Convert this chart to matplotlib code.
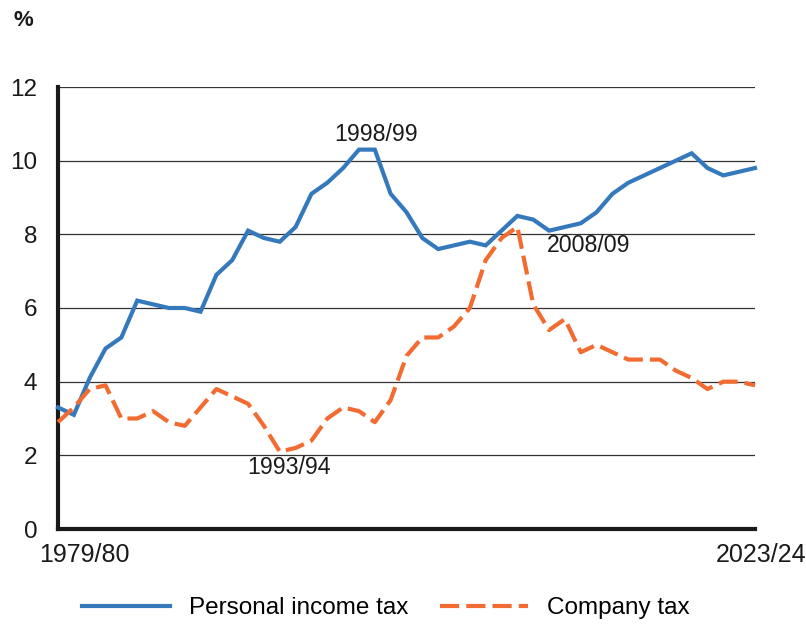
from matplotlib import pyplot as plt
import numpy as np

plt.rcParams['font.family'] = ['Liberation Sans', 'DejaVu Sans']

# financial years 1979/80 .. 2023/24
years = ['{}/{:02d}'.format(y, (y + 1) % 100) for y in range(1979, 2024)]

personal_income_tax = [3.3, 3.1, 4.1, 4.9, 5.2, 6.2, 6.1, 6.0, 6.0, 5.9,
                       6.9, 7.3, 8.1, 7.9, 7.8, 8.2, 9.1, 9.4, 9.8, 10.3,
                       10.3, 9.1, 8.6, 7.9, 7.6, 7.7, 7.8, 7.7, 8.1, 8.5,
                       8.4, 8.1, 8.2, 8.3, 8.6, 9.1, 9.4, 9.6, 9.8, 10.0,
                       10.2, 9.8, 9.6, 9.7, 9.8]
company_tax = [2.9, 3.3, 3.8, 3.9, 3.0, 3.0, 3.2, 2.9, 2.8, 3.3,
               3.8, 3.6, 3.4, 2.8, 2.1, 2.2, 2.4, 3.0, 3.3, 3.2,
               2.9, 3.5, 4.7, 5.2, 5.2, 5.5, 6.0, 7.3, 7.9, 8.2,
               6.1, 5.4, 5.7, 4.8, 5.0, 4.8, 4.6, 4.6, 4.6, 4.3,
               4.1, 3.8, 4.0, 4.0, 3.9]
y_ticks = [0, 2, 4, 6, 8, 10, 12]
callouts = ['1993/94', '1998/99', '2008/09']

blue = '#3579BD'
orange = '#F26B30'
txt = '#1a1a1a'

x = np.arange(len(years))

fig = plt.figure(figsize=(8.06, 6.24), dpi=100)
ax = fig.add_subplot(111)
fig.subplots_adjust(left=58/806, right=755/806, top=1-87/624, bottom=1-529/624)

for yt in y_ticks[1:]:
    ax.axhline(yt, color='#333333', lw=0.9, zorder=1)

ax.plot(x, personal_income_tax, color=blue, lw=3, label='Personal income tax',
        solid_joinstyle='miter', clip_on=False, zorder=3)
ax.plot(x, company_tax, color=orange, lw=3, dashes=(4.6, 1.7), label='Company tax',
        clip_on=False, zorder=3)

ax.set_xlim(0, len(years) - 1)
ax.set_ylim(0, 12)
ax.set_yticks(y_ticks)
ax.set_xticks([])
ax.tick_params(axis='y', length=0, pad=15, labelsize=17.5, labelcolor=txt)
for s in ['top', 'right']:
    ax.spines[s].set_visible(False)
for s in ['left', 'bottom']:
    ax.spines[s].set_linewidth(3)
    ax.spines[s].set_color(txt)

# first / last year labels
ax.annotate(years[0], xy=(0, 0), xycoords=('data', 'axes fraction'),
            xytext=(-13.5, -10), textcoords='offset points', ha='left', va='top',
            fontsize=18, color=txt)
ax.annotate(years[-1], xy=(len(years) - 1, 0), xycoords=('data', 'axes fraction'),
            xytext=(37, -10), textcoords='offset points', ha='right', va='top',
            fontsize=18, color=txt)

# callouts
i = years.index(callouts[0])
ax.text(i + 0.6, company_tax[i] - 0.42, callouts[0], ha='center', va='center',
        fontsize=16.7, color=txt)
i = years.index(callouts[1])
ax.text(i + 1.1, personal_income_tax[i] + 0.42, callouts[1], ha='center', va='center',
        fontsize=16.7, color=txt)
i = years.index(callouts[2])
ax.text(i + 4.5, company_tax[i] - 0.5, callouts[2], ha='center', va='center',
        fontsize=16.7, color=txt)

fig.text(13/806, 1-20/624, '%', ha='left', va='center', fontsize=16,
         fontweight='bold', color=txt)

fig.legend(loc='center', bbox_to_anchor=(0.479, 0.025), ncol=2, frameon=False,
           fontsize=17.5, handlelength=3.6, handletextpad=0.8, columnspacing=1.3)

plt.savefig('out.png', dpi=100)
